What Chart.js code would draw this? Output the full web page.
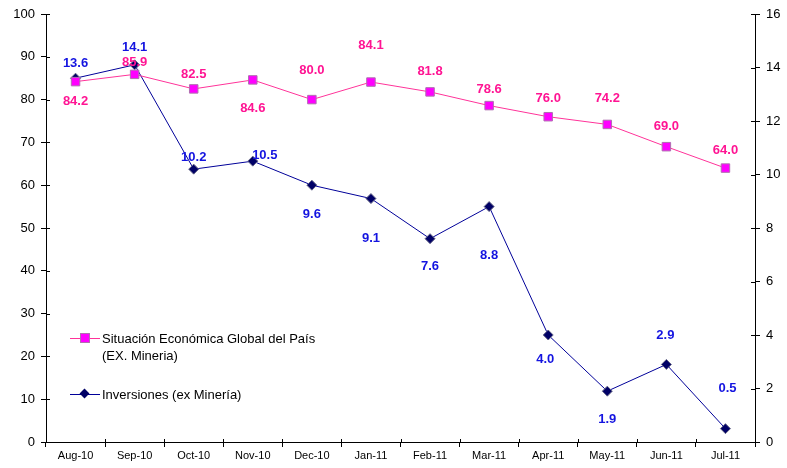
<!DOCTYPE html>
<html>
<head>
<meta charset="utf-8">
<script src="https://cdn.jsdelivr.net/npm/chart.js@4"></script>
<style>
  html, body { margin: 0; padding: 0; background: #fff; }
  #wrap { position: relative; width: 787px; height: 468px; }
  .legend { position: absolute; font: 13px "Liberation Sans", Arial, sans-serif; color: #000; line-height: 17px; }
  .legend .key { position: absolute; left: 0; top: 8px; width: 30px; height: 1px; }
  .legend .txt { position: absolute; left: 32px; top: 0; white-space: nowrap; }
</style>
</head>
<body>
<div id="wrap">
  <canvas id="c" width="787" height="468"></canvas>
  <div class="legend" style="left:70px; top:330px;">
    <div class="key" style="background:#ff3399;"></div>
    <div style="position:absolute; left:10px; top:3px; width:10px; height:10px; background:#ff00ff; box-sizing:border-box; border:1px solid #b070b0;"></div>
    <div class="txt">Situación Económica Global del País<br>(EX. Mineria)</div>
  </div>
  <div class="legend" style="left:70px; top:386px;">
    <div class="key" style="background:#000099;"></div>
    <div style="position:absolute; left:11px; top:4px; width:7px; height:7px; background:#000066; transform:rotate(45deg);"></div>
    <div class="txt">Inversiones (ex Minería)</div>
  </div>
</div>
<script>
const months = ["Aug-10", "Sep-10", "Oct-10", "Nov-10", "Dec-10", "Jan-11",
                "Feb-11", "Mar-11", "Apr-11", "May-11", "Jun-11", "Jul-11"];
const situacion = [84.2, 85.9, 82.5, 84.6, 80.0, 84.1, 81.8, 78.6, 76.0, 74.2, 69.0, 64.0];
const inversiones = [13.6, 14.1, 10.2, 10.5, 9.6, 9.1, 7.6, 8.8, 4.0, 1.9, 2.9, 0.5];

// label offsets from each point (dx, dy) in px
const situacionOffsets = [[0, 20], [0, -12], [0, -14], [0, 29], [0, -29], [0, -37],
                          [0, -20], [0, -16], [0, -18], [0, -26], [0, -20], [0, -18]];
const inversionesOffsets = [[0, -15], [0, -17], [0, -12], [12, -6], [0, 29], [0, 40],
                            [0, 28], [0, 49], [-3, 24], [0, 28], [-1, -29], [2, -40]];

const FONT = '"Liberation Sans", Arial, sans-serif';

const pointLabels = {
  id: "pointLabels",
  afterDatasetsDraw(chart) {
    const ctx = chart.ctx;
    ctx.save();
    ctx.font = "bold 13px " + FONT;
    ctx.textAlign = "center";
    ctx.textBaseline = "middle";
    chart.data.datasets.forEach((ds, i) => {
      const meta = chart.getDatasetMeta(i);
      const offsets = i === 0 ? situacionOffsets : inversionesOffsets;
      ctx.fillStyle = i === 0 ? "#ff1493" : "#1414e0";
      meta.data.forEach((pt, j) => {
        ctx.fillText(ds.data[j].toFixed(1), pt.x + offsets[j][0], pt.y + offsets[j][1]);
      });
    });
    ctx.restore();
  },
};

// the original's tick marks cross the axis lines; draw the inner half
const innerTicks = {
  id: "innerTicks",
  afterDraw(chart) {
    const ctx = chart.ctx;
    const { x, y, y1 } = chart.scales;
    const area = chart.chartArea;
    ctx.save();
    ctx.strokeStyle = "#000";
    ctx.lineWidth = 1;
    ctx.beginPath();
    const step = (x.right - x.left) / months.length;
    for (let k = 1; k < months.length; k++) {
      const px = Math.round(x.left + k * step) + 0.5;
      ctx.moveTo(px, area.bottom);
      ctx.lineTo(px, area.bottom - 3);
    }
    y.ticks.forEach((t, i) => {
      const py = Math.round(y.getPixelForTick(i)) + 0.5;
      ctx.moveTo(area.left, py);
      ctx.lineTo(area.left + 4, py);
    });
    y1.ticks.forEach((t, i) => {
      const py = Math.round(y1.getPixelForTick(i)) + 0.5;
      ctx.moveTo(area.right, py);
      ctx.lineTo(area.right - 4, py);
    });
    ctx.stroke();
    ctx.restore();
  },
};

Chart.defaults.font.family = FONT;
Chart.defaults.font.size = 13;
Chart.defaults.color = "#000";

new Chart(document.getElementById("c"), {
  type: "line",
  data: {
    labels: months,
    datasets: [
      {
        label: "Situación Económica Global del País (EX. Mineria)",
        data: situacion,
        yAxisID: "y",
        borderColor: "#ff3399",
        borderWidth: 1,
        backgroundColor: "#ff00ff",
        pointStyle: "rect",
        pointRadius: 6,
        pointBorderColor: "#b070b0",
        pointBorderWidth: 1,
        tension: 0,
      },
      {
        label: "Inversiones (ex Minería)",
        data: inversiones,
        yAxisID: "y1",
        borderColor: "#000099",
        borderWidth: 1,
        backgroundColor: "#000066",
        pointStyle: "rectRot",
        pointRadius: 5,
        pointBorderColor: "#666688",
        pointBorderWidth: 1,
        tension: 0,
      },
    ],
  },
  options: {
    responsive: false,
    animation: false,
    layout: { padding: { top: 14, left: 0, right: 0, bottom: 0 } },
    plugins: {
      legend: { display: false },
      tooltip: { enabled: false },
    },
    scales: {
      x: {
        offset: true,
        grid: { display: true, drawOnChartArea: false, color: "#000", tickLength: 5, offset: true },
        border: { color: "#000", width: 1 },
        ticks: { font: { size: 11 }, maxRotation: 0, autoSkip: false, padding: 2 },
        afterFit(scale) { scale.height = 26; },
      },
      y: {
        position: "left",
        min: 0,
        max: 100,
        ticks: { stepSize: 10, padding: 6 },
        grid: { drawOnChartArea: false, color: "#000", tickLength: 5 },
        border: { color: "#000", width: 1 },
        afterFit(scale) { scale.width = 46; },
      },
      y1: {
        position: "right",
        min: 0,
        max: 16,
        ticks: { stepSize: 2, padding: 6 },
        grid: { drawOnChartArea: false, color: "#000", tickLength: 5 },
        border: { color: "#000", width: 1 },
        afterFit(scale) { scale.width = 32; },
      },
    },
  },
  plugins: [pointLabels, innerTicks],
});
</script>
</body>
</html>
